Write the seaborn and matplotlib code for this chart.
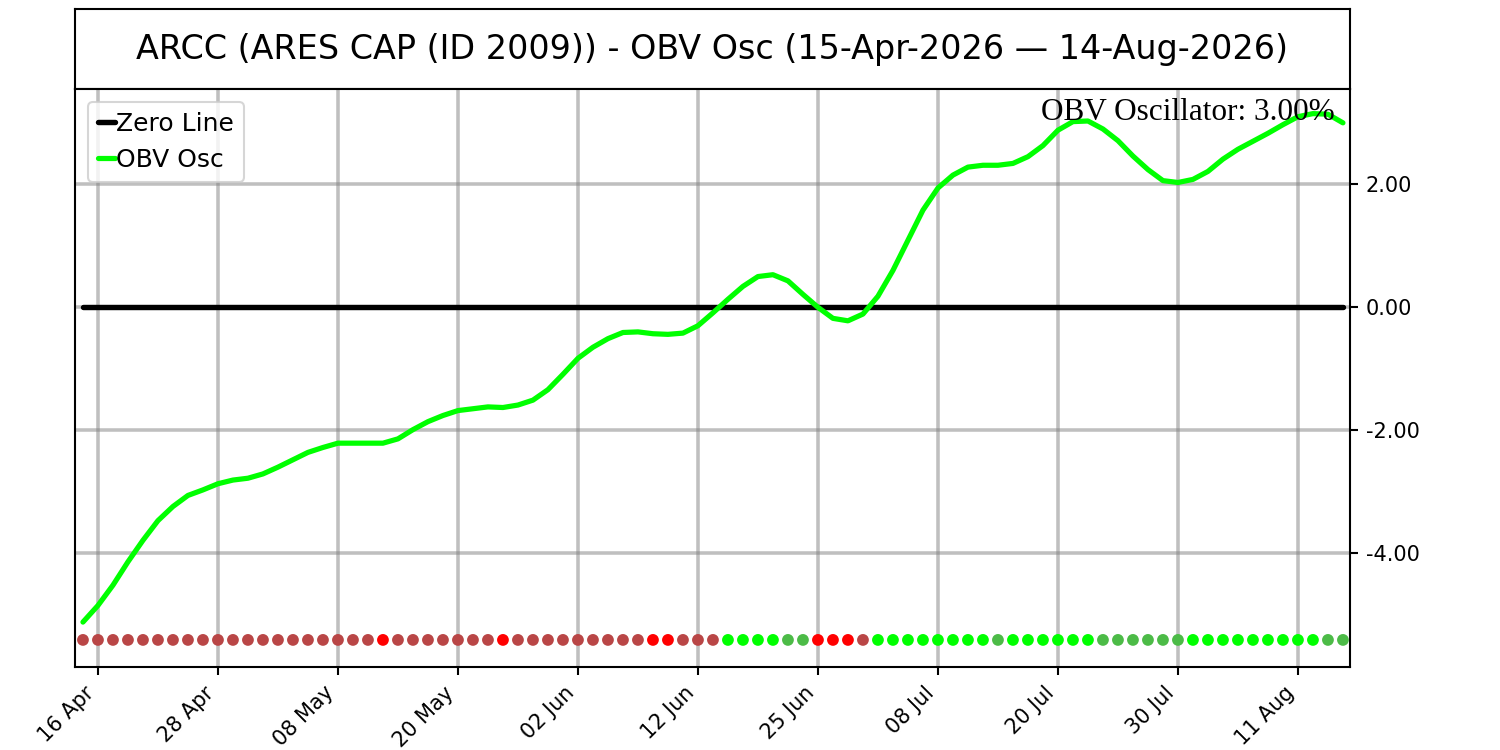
import matplotlib
matplotlib.use("Agg")
import matplotlib.pyplot as plt
from matplotlib.ticker import FuncFormatter
import seaborn as sns
import pandas as pd

# trading days 15 Apr - 14 Aug 2026 (US market holidays dropped)
holidays = ['2026-05-25', '2026-06-19', '2026-07-03']
dates = pd.bdate_range('2026-04-15', '2026-08-14')
dates = dates[~dates.isin(pd.to_datetime(holidays))]

obv_osc = [-5.12, -4.85, -4.52, -4.14, -3.79, -3.47, -3.24, -3.06, -2.97, -2.87,
           -2.81, -2.78, -2.71, -2.60, -2.48, -2.36, -2.28, -2.21, -2.21, -2.21,
           -2.21, -2.14, -1.99, -1.86, -1.76, -1.68, -1.65, -1.62, -1.63, -1.59,
           -1.51, -1.34, -1.09, -0.83, -0.65, -0.51, -0.41, -0.40, -0.43, -0.44,
           -0.42, -0.30, -0.09, 0.13, 0.34, 0.50, 0.53, 0.43, 0.21, 0.00,
           -0.18, -0.22, -0.11, 0.18, 0.60, 1.09, 1.58, 1.94, 2.15, 2.28,
           2.31, 2.31, 2.34, 2.45, 2.63, 2.88, 3.02, 3.03, 2.90, 2.71,
           2.46, 2.24, 2.06, 2.03, 2.08, 2.21, 2.41, 2.57, 2.70, 2.83,
           2.97, 3.10, 3.15, 3.14, 3.00]

# signal dots along the bottom: b=weak down, r=strong down, g=strong up, m=weak up
signal = (['b'] * 20 + ['r'] + ['b'] * 7 + ['r'] + ['b'] * 9 + ['r'] * 2 + ['b'] * 3
          + ['g'] * 4 + ['m'] * 2 + ['r'] * 3 + ['b'] + ['g'] * 8 + ['m'] + ['g'] * 6
          + ['m'] * 6 + ['g'] * 9 + ['m'] * 2)
signal_colors = {'b': '#b94646', 'r': '#ff0000', 'g': '#00ff00', 'm': '#4cbb47'}

ticker = 'ARCC'
name = 'ARES CAP (ID 2009)'

idx = list(range(len(dates)))
df = pd.DataFrame({'i': idx, 'osc': obv_osc, 'zero': [0.0] * len(idx),
                   'signal': signal, 'dot_y': [-5.41] * len(idx)})

sns.set_style("white")
plt.rcParams['font.family'] = ['DejaVu Sans']
plt.rcParams.update({'text.color': 'black', 'xtick.color': 'black',
                     'ytick.color': 'black', 'axes.labelcolor': 'black'})

fig = plt.figure(figsize=(10, 5), dpi=150)
ax_t = fig.add_axes([0.05, 0.8813, 0.85, 0.1067])
ax = fig.add_axes([0.05, 0.1107, 0.85, 0.7706])

ax_t.set_xticks([])
ax_t.set_yticks([])
for s in ax_t.spines.values():
    s.set_color('black')
    s.set_linewidth(1.0)
title = '%s (%s) - OBV Osc (%s — %s)' % (ticker, name, dates[0].strftime('%d-%b-%Y'),
                                        dates[-1].strftime('%d-%b-%Y'))
ax_t.text(0.5, 0.5, title, ha='center', va='center', fontsize=16, transform=ax_t.transAxes)

sns.lineplot(data=df, x='i', y='zero', color='black', linewidth=2.6, label='Zero Line', ax=ax)
sns.lineplot(data=df, x='i', y='osc', color='#00ff00', linewidth=2.5, label='OBV Osc', ax=ax)
sns.scatterplot(data=df, x='i', y='dot_y', hue='signal', palette=signal_colors,
                s=32, linewidth=0, legend=False, ax=ax, zorder=3)

ax.set_xlim(-0.53, 84.47)
ax.set_ylim(-5.85, 3.55)
ax.set_xlabel('')
ax.set_ylabel('')

tick_pos = idx[1::8]
ax.set_xticks(tick_pos)
ax.set_xticklabels([dates[p].strftime('%d %b') for p in tick_pos], rotation=45, ha='right',
                   fontsize=10)
ax.set_yticks([-4, -2, 0, 2])
ax.yaxis.set_major_formatter(FuncFormatter(lambda v, p: '%.2f' % v))
ax.yaxis.tick_right()
ax.tick_params(axis='y', labelsize=10, length=4, width=1, direction='out', right=True, left=False)
ax.tick_params(axis='x', length=4, width=1, direction='out', bottom=True)
ax.grid(True, color='gray', alpha=0.5, linewidth=1.7)
ax.set_axisbelow(True)
for s in ax.spines.values():
    s.set_color('black')
    s.set_linewidth(1.0)

ax.text(0.988, 0.985, 'OBV Oscillator: %.2f%%' % obv_osc[-1], transform=ax.transAxes,
        ha='right', va='top', fontsize=15, family=['Liberation Serif', 'DejaVu Serif'])

ax.legend(loc='upper left', fontsize=12, handlelength=0.7, handletextpad=0.05,
          borderaxespad=0.5, frameon=True)

fig.savefig('out.png', dpi=150)
